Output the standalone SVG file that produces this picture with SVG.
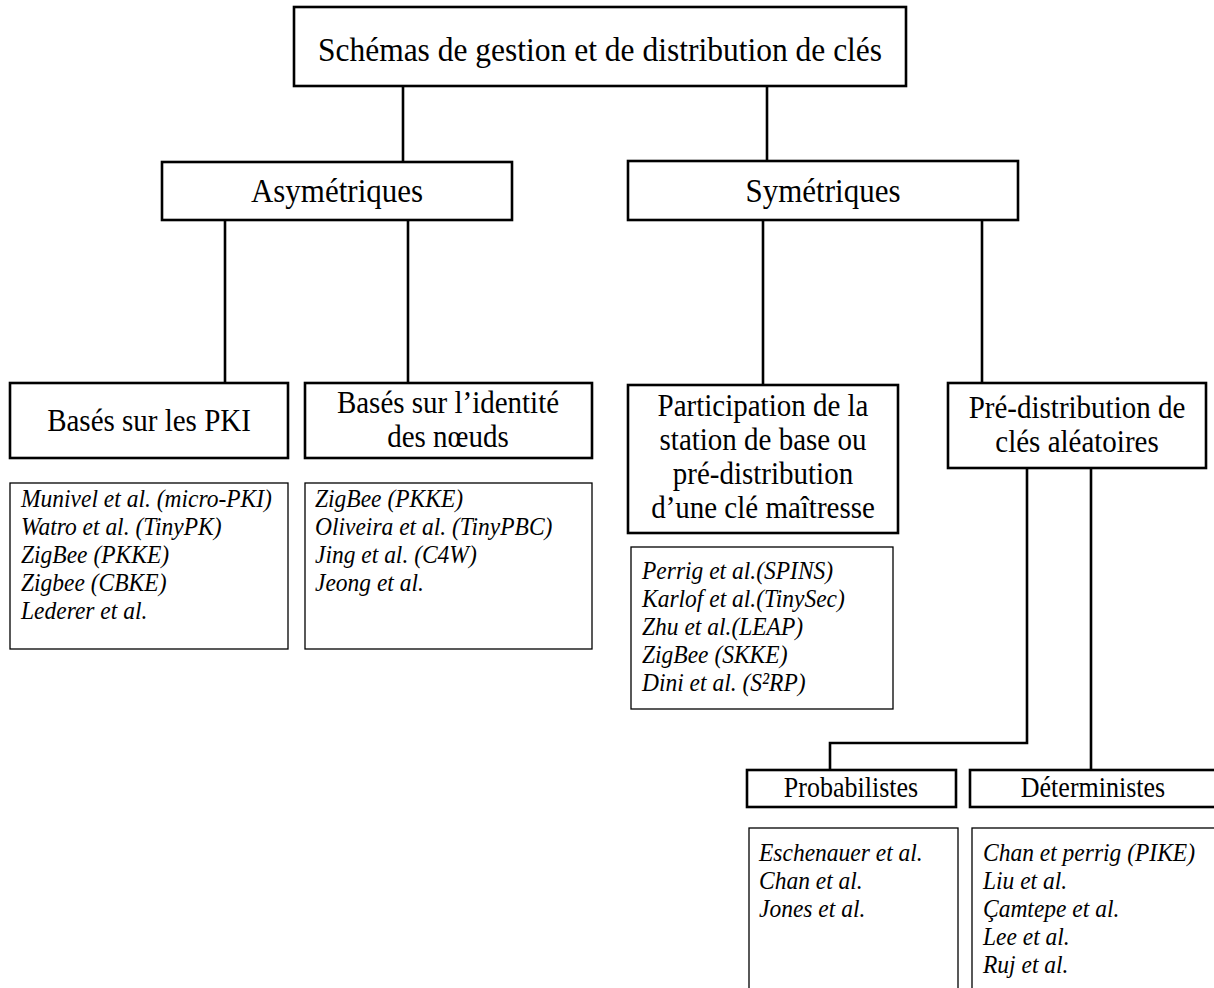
<svg xmlns="http://www.w3.org/2000/svg" width="1214" height="988" viewBox="0 0 1214 988">
<style>
.box{fill:#fff;stroke:#000;stroke-width:2.6}
.list{fill:#fff;stroke:#000;stroke-width:1.3}
.conn{fill:none;stroke:#000;stroke-width:2.6}
.t{font-family:"Liberation Serif","Times New Roman",serif;fill:#000;text-anchor:middle}
.t1{font-size:31.5px}
.t2{font-size:31px}
.t3{font-size:29px}
.t4{font-size:26px}
.it{font-family:"Liberation Serif","Times New Roman",serif;font-style:italic;font-size:23.5px;fill:#000}
</style>
<rect width="1214" height="988" fill="#fff"/>
<g id="connectors">
<line class="conn" x1="403" y1="86" x2="403" y2="162"/>
<line class="conn" x1="767" y1="86" x2="767" y2="161"/>
<line class="conn" x1="225" y1="220" x2="225" y2="383"/>
<line class="conn" x1="408" y1="220" x2="408" y2="383"/>
<line class="conn" x1="763" y1="220" x2="763" y2="385"/>
<line class="conn" x1="982" y1="220" x2="982" y2="383"/>
<polyline class="conn" points="1027,468 1027,743 830,743 830,770"/>
<line class="conn" x1="1091" y1="468" x2="1091" y2="770"/>
</g>
<g id="root">
<rect class="box" x="294" y="7" width="612" height="79"/>
<text class="t t1" transform="translate(600,61) scale(1,1.1)">Schémas de gestion et de distribution de clés</text>
</g>
<g id="asym">
<rect class="box" x="162" y="162" width="350" height="58"/>
<text class="t t2" transform="translate(337,202) scale(1,1.1)">Asymétriques</text>
</g>
<g id="sym">
<rect class="box" x="628" y="161" width="390" height="59"/>
<text class="t t2" transform="translate(823,202) scale(1,1.1)">Symétriques</text>
</g>
<g id="pki">
<rect class="box" x="10" y="383" width="278" height="75"/>
<text class="t t3" transform="translate(149,431) scale(1,1.1)">Basés sur les PKI</text>
</g>
<g id="pki-list">
<rect class="list" x="10" y="483" width="278" height="166"/>
<text class="it" transform="translate(21,507) scale(1,1.1)">Munivel et al. (micro-PKI)</text>
<text class="it" transform="translate(21,535) scale(1,1.1)">Watro et al. (TinyPK)</text>
<text class="it" transform="translate(21,563) scale(1,1.1)">ZigBee (PKKE)</text>
<text class="it" transform="translate(21,591) scale(1,1.1)">Zigbee (CBKE)</text>
<text class="it" transform="translate(21,619) scale(1,1.1)">Lederer et al.</text>
</g>
<g id="identite">
<rect class="box" x="305" y="383" width="287" height="75"/>
<text class="t t3" transform="translate(448,413) scale(1,1.1)">Basés sur l’identité</text>
<text class="t t3" transform="translate(448,447) scale(1,1.1)">des nœuds</text>
</g>
<g id="identite-list">
<rect class="list" x="305" y="483" width="287" height="166"/>
<text class="it" transform="translate(315,507) scale(1,1.1)">ZigBee (PKKE)</text>
<text class="it" transform="translate(315,535) scale(1,1.1)">Oliveira et al. (TinyPBC)</text>
<text class="it" transform="translate(315,563) scale(1,1.1)">Jing et al. (C4W)</text>
<text class="it" transform="translate(315,591) scale(1,1.1)">Jeong et al.</text>
</g>
<g id="participation">
<rect class="box" x="628" y="385" width="270" height="148"/>
<text class="t t3" transform="translate(763,416) scale(1,1.1)">Participation de la</text>
<text class="t t3" transform="translate(763,450) scale(1,1.1)">station de base ou</text>
<text class="t t3" transform="translate(763,484) scale(1,1.1)">pré-distribution</text>
<text class="t t3" transform="translate(763,518) scale(1,1.1)">d’une clé maîtresse</text>
</g>
<g id="participation-list">
<rect class="list" x="631" y="547" width="262" height="162"/>
<text class="it" transform="translate(642,579) scale(1,1.1)">Perrig et al.(SPINS)</text>
<text class="it" transform="translate(642,607) scale(1,1.1)">Karlof et al.(TinySec)</text>
<text class="it" transform="translate(642,635) scale(1,1.1)">Zhu et al.(LEAP)</text>
<text class="it" transform="translate(642,663) scale(1,1.1)">ZigBee (SKKE)</text>
<text class="it" transform="translate(642,691) scale(1,1.1)">Dini et al. (S²RP)</text>
</g>
<g id="predistribution">
<rect class="box" x="948" y="383" width="258" height="85"/>
<text class="t t3" transform="translate(1077,418) scale(1,1.1)">Pré-distribution de</text>
<text class="t t3" transform="translate(1077,452) scale(1,1.1)">clés aléatoires</text>
</g>
<g id="probabilistes">
<rect class="box" x="747" y="770" width="209" height="37"/>
<text class="t t4" transform="translate(851,797) scale(1,1.1)">Probabilistes</text>
</g>
<g id="probabilistes-list">
<rect class="list" x="749" y="828" width="209" height="170"/>
<text class="it" transform="translate(759,861) scale(1,1.1)">Eschenauer et al.</text>
<text class="it" transform="translate(759,889) scale(1,1.1)">Chan et al.</text>
<text class="it" transform="translate(759,917) scale(1,1.1)">Jones et al.</text>
</g>
<g id="deterministes">
<rect class="box" x="970" y="770" width="246" height="37"/>
<text class="t t4" transform="translate(1093,797) scale(1,1.1)">Déterministes</text>
</g>
<g id="deterministes-list">
<rect class="list" x="972" y="828" width="250" height="170"/>
<text class="it" transform="translate(983,861) scale(1,1.1)">Chan et perrig (PIKE)</text>
<text class="it" transform="translate(983,889) scale(1,1.1)">Liu et al.</text>
<text class="it" transform="translate(983,917) scale(1,1.1)">Çamtepe et al.</text>
<text class="it" transform="translate(983,945) scale(1,1.1)">Lee et al.</text>
<text class="it" transform="translate(983,973) scale(1,1.1)">Ruj et al.</text>
</g>
</svg>
